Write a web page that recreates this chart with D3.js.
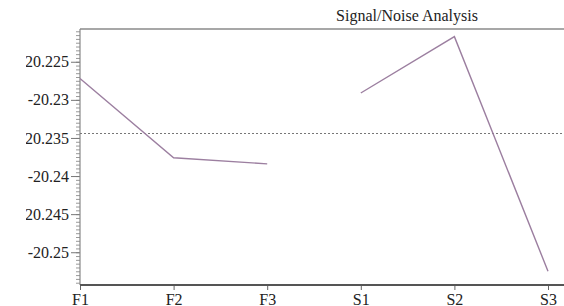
<!DOCTYPE html>
<html>
<head>
<meta charset="utf-8">
<script src="https://cdn.jsdelivr.net/npm/d3@7"></script>
<style>
  body { margin: 0; background: #fff; }
  svg { display: block; }
</style>
</head>
<body>
<svg id="chart"></svg>
<script>
const categories = ["F1", "F2", "F3", "S1", "S2", "S3"];
const groups = ["F", "F", "F", "S", "S", "S"];
const values = [-20.2272, -20.2376, -20.2384, -20.2291, -20.2217, -20.2525];
const yTicks = [-20.225, -20.23, -20.235, -20.24, -20.245, -20.25];
const title = "Signal/Noise Analysis";

const width = 564;
const height = 306;
const margin = { top: 29, right: 0, bottom: 21, left: 80 };

const svg = d3.select("#chart").attr("width", width).attr("height", height);

const x = d3
  .scalePoint()
  .domain(categories)
  .range([margin.left, 548]);

const y = d3
  .scaleLinear()
  .domain([-20.2543, -20.2207])
  .range([height - margin.bottom, margin.top]);

const font = "'Liberation Serif', 'Times New Roman', serif";

// clip so the leading minus of the wide labels falls off, as in the picture
svg
  .append("clipPath")
  .attr("id", "labelClip")
  .append("rect")
  .attr("x", 26)
  .attr("y", 0)
  .attr("width", width)
  .attr("height", height);

// top border
svg
  .append("line")
  .attr("x1", margin.left)
  .attr("x2", width)
  .attr("y1", margin.top)
  .attr("y2", margin.top)
  .attr("stroke", "#8a8a8a")
  .attr("stroke-width", 1.5);

// y axis with dense minor ticks
const minorTicks = d3.range(0, 68).map((i) => -20.254 + i * 0.0005).filter((v) => v > y.domain()[0] && v < y.domain()[1]);

svg
  .append("g")
  .attr("transform", `translate(${margin.left},0)`)
  .call(d3.axisLeft(y).tickValues(minorTicks).tickSize(4).tickFormat(""))
  .call((g) => g.select(".domain").remove())
  .call((g) => g.selectAll(".tick line").attr("stroke", "#999"));

svg
  .append("g")
  .attr("clip-path", "url(#labelClip)")
  .append("g")
  .attr("transform", `translate(${margin.left},0)`)
  .call(d3.axisLeft(y).tickValues(yTicks).tickSize(9).tickPadding(2).tickFormat((d) => String(d)))
  .call((g) => g.select(".domain").remove())
  .call((g) => g.selectAll(".tick line").attr("stroke", "#777"))
  .call((g) =>
    g.selectAll(".tick text").attr("font-family", font).attr("font-size", 16).attr("fill", "#222")
  );

svg
  .append("line")
  .attr("x1", margin.left)
  .attr("x2", margin.left)
  .attr("y1", margin.top)
  .attr("y2", height - margin.bottom)
  .attr("stroke", "#888")
  .attr("stroke-width", 1.2);

// x axis
svg
  .append("g")
  .attr("transform", `translate(0,${height - margin.bottom})`)
  .call(d3.axisBottom(x).tickSize(5).tickPadding(4))
  .call((g) => g.select(".domain").remove())
  .call((g) => g.selectAll(".tick line").attr("stroke", "#666"))
  .call((g) =>
    g.selectAll(".tick text").attr("font-family", font).attr("font-size", 16).attr("fill", "#222")
  );

svg
  .append("line")
  .attr("x1", margin.left)
  .attr("x2", width)
  .attr("y1", height - margin.bottom)
  .attr("y2", height - margin.bottom)
  .attr("stroke", "#555")
  .attr("stroke-width", 2);

// mean reference line
const meanValue = d3.mean(values);
svg
  .append("line")
  .attr("x1", margin.left)
  .attr("x2", width)
  .attr("y1", y(meanValue))
  .attr("y2", y(meanValue))
  .attr("stroke", "#777")
  .attr("stroke-width", 1)
  .attr("stroke-dasharray", "2,2");

// series lines
const points = categories.map((c, i) => ({ cat: c, group: groups[i], value: values[i] }));
const line = d3
  .line()
  .x((d) => x(d.cat))
  .y((d) => y(d.value));

svg
  .append("g")
  .selectAll("path")
  .data(d3.groups(points, (d) => d.group))
  .join("path")
  .attr("fill", "none")
  .attr("stroke", "#9c7fa0")
  .attr("stroke-width", 1.4)
  .attr("d", (d) => line(d[1]));

// title
svg
  .append("text")
  .attr("x", 407)
  .attr("y", 21)
  .attr("text-anchor", "middle")
  .attr("font-family", font)
  .attr("font-size", 16)
  .attr("fill", "#222")
  .text(title);
</script>
</body>
</html>
